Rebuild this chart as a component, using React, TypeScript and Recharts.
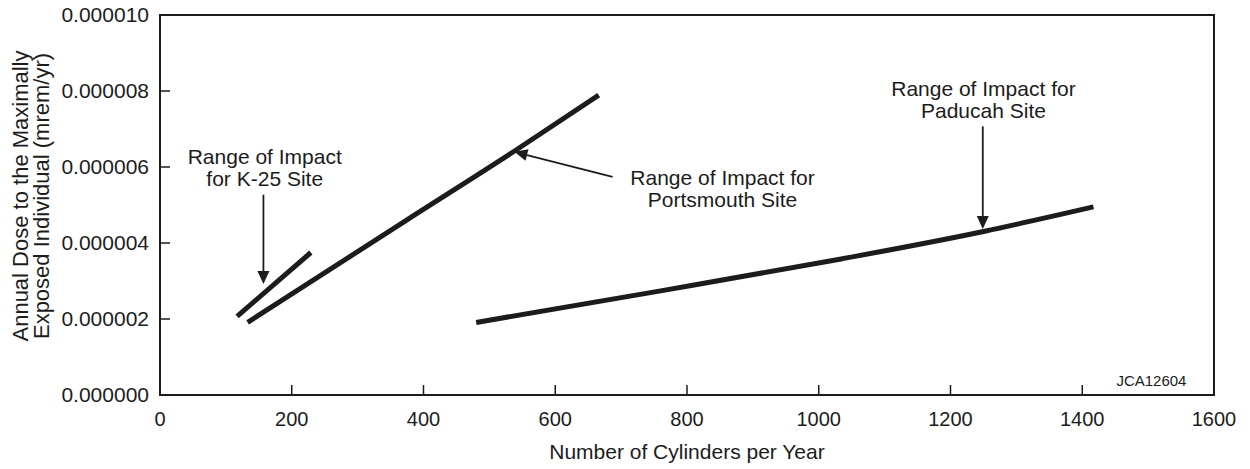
import { Label, Line, LineChart, ReferenceArea, ReferenceDot, ReferenceLine, XAxis, YAxis } from "recharts"

// values (cylinders per year vs mrem/yr)
const xTicks = [0, 200, 400, 600, 800, 1000, 1200, 1400, 1600]
const yTicks = [0, 0.000002, 0.000004, 0.000006, 0.000008, 0.00001]

const k25Cylinders = [117, 229]
const k25Dose = [0.00000207, 0.00000375]

const portsmouthCylinders = [133, 375, 540, 666]
const portsmouthDose = [0.00000191, 0.00000461, 0.00000644, 0.00000789]

const paducahCylinders = [480, 760, 1034, 1252, 1417]
const paducahDose = [0.00000191, 0.00000274, 0.00000358, 0.00000431, 0.00000495]

const notes = [
  { lines: ["Range of Impact", "for K-25 Site"], x: 159, y: 0.00000627, from: [157, 0.00000527], to: [157, 0.00000292] },
  { lines: ["Range of Impact for", "Portsmouth Site"], x: 854, y: 0.00000572, from: [687, 0.00000574], to: [538, 0.0000064] },
  { lines: ["Range of Impact for", "Paducah Site"], x: 1250, y: 0.00000806, from: [1249, 0.00000707], to: [1249, 0.00000437] },
]

const zip = (xs: number[], ys: number[]) => xs.map((x, i) => ({ x, y: ys[i] }))

const k25 = zip(k25Cylinders, k25Dose)
const portsmouth = zip(portsmouthCylinders, portsmouthDose)
const paducah = zip(paducahCylinders, paducahDose)

const ink = "#1c1c1c"
const font = "'Liberation Sans', Arial, sans-serif"

function Arrow(p: any) {
  const { x1, y1, x2, y2 } = p
  const dx = x2 - x1
  const dy = y2 - y1
  const len = Math.sqrt(dx * dx + dy * dy) || 1
  const ux = dx / len
  const uy = dy / len
  const bx = x2 - ux * 13
  const by = y2 - uy * 13
  const pts = `${x2},${y2} ${bx - uy * 6},${by + ux * 6} ${bx + uy * 6},${by - ux * 6}`
  return (
    <g>
      <line x1={x1} y1={y1} x2={bx} y2={by} stroke={ink} strokeWidth={1.8} />
      <polygon points={pts} fill={ink} />
    </g>
  )
}

function NoteText(lines: string[]) {
  return (p: any) => (
    <text x={p.cx} y={p.cy} textAnchor="middle" fontSize={21} fill={ink} fontFamily={font}>
      {lines.map((l, i) => (
        <tspan key={i} x={p.cx} dy={i === 0 ? "0.36em" : 22}>
          {l}
        </tspan>
      ))}
    </text>
  )
}

function YTitle() {
  const cy = 196
  return (
    <g fontFamily={font} fontSize={22} fill={ink}>
      <text x={20} y={cy} textAnchor="middle" dominantBaseline="central" transform={`rotate(-90 20 ${cy})`}>
        Annual Dose to the Maximally
      </text>
      <text x={41} y={cy} textAnchor="middle" dominantBaseline="central" transform={`rotate(-90 41 ${cy})`}>
        Exposed Individual (mrem/yr)
      </text>
    </g>
  )
}

export default function App() {
  return (
    <div style={{ position: "absolute", left: 0, top: 0, background: "#fff" }}>
      <LineChart width={1250} height={469} margin={{ top: 15, right: 36, bottom: 0, left: 0 }} style={{ fontFamily: font }}>
        <XAxis
          dataKey="x"
          type="number"
          domain={[0, 1600]}
          ticks={xTicks}
          height={74}
          tickSize={-10}
          tickMargin={27}
          axisLine={{ stroke: ink, strokeWidth: 2 }}
          tickLine={{ stroke: ink, strokeWidth: 1.5 }}
          tick={{ fill: ink, fontSize: 20 }}
          allowDuplicatedCategory={false}
        >
          <Label value="Number of Cylinders per Year" position="insideBottom" offset={10} fill={ink} fontSize={21} />
        </XAxis>
        <YAxis
          type="number"
          domain={[0, 0.00001]}
          ticks={yTicks}
          width={160}
          tickSize={-10}
          tickMargin={21}
          axisLine={{ stroke: ink, strokeWidth: 2 }}
          tickLine={{ stroke: ink, strokeWidth: 1.5 }}
          tick={{ fill: ink, fontSize: 21 }}
          tickFormatter={(v: number) => v.toFixed(6)}
        >
          <Label content={YTitle} />
        </YAxis>
        <ReferenceArea x1={0} x2={1600} y1={0} y2={0.00001} fill="none" stroke={ink} strokeWidth={2} />
        <Line data={k25} dataKey="y" type="linear" stroke={ink} strokeWidth={5} dot={false} isAnimationActive={false} />
        <Line data={portsmouth} dataKey="y" type="monotone" stroke={ink} strokeWidth={5} dot={false} isAnimationActive={false} />
        <Line data={paducah} dataKey="y" type="monotone" stroke={ink} strokeWidth={5} dot={false} isAnimationActive={false} />
        {notes.map((n, i) => (
          <ReferenceLine
            key={"a" + i}
            segment={[
              { x: n.from[0], y: n.from[1] },
              { x: n.to[0], y: n.to[1] },
            ]}
            shape={Arrow}
          />
        ))}
        {notes.map((n, i) => (
          <ReferenceDot key={"t" + i} x={n.x} y={n.y} r={0} shape={NoteText(n.lines)} />
        ))}
        <ReferenceDot
          x={1505}
          y={0.00000037}
          r={0}
          shape={(p: any) => (
            <text x={p.cx} y={p.cy} textAnchor="middle" dominantBaseline="central" fontSize={15} fill={ink} fontFamily={font}>
              JCA12604
            </text>
          )}
        />
      </LineChart>
    </div>
  )
}
